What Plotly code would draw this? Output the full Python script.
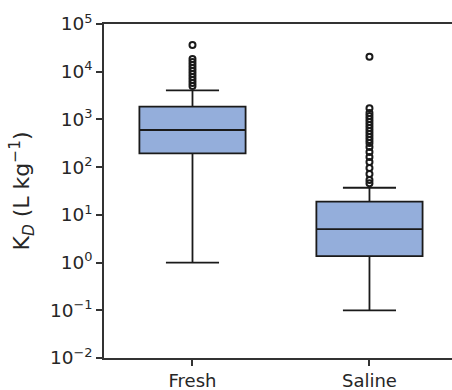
import plotly.graph_objects as go

categories = ["Fresh", "Saline"]
q1 = [195, 1.37]
median = [600, 5.0]
q3 = [1850, 18.9]
lower_whisker = [1.0, 0.1]
upper_whisker = [4080, 37]

fresh_outliers = [36300, 18500, 16000, 13800, 12000, 10400, 8950, 7740, 6700, 5800, 5000]
saline_outliers = [20700, 1710, 1360, 1180, 1020, 883, 764, 661, 572, 494, 428, 370,
                   320, 264, 208, 163, 128, 96, 72, 54, 46]

tick_vals = [1e-2, 1e-1, 1e0, 1e1, 1e2, 1e3, 1e4, 1e5]
tick_text = ["10<sup>−2</sup>", "10<sup>−1</sup>", "10<sup>0</sup>", "10<sup>1</sup>",
             "10<sup>2</sup>", "10<sup>3</sup>", "10<sup>4</sup>", "10<sup>5</sup>"]

FONT = "DejaVu Sans"
TXT = "#262626"
fig = go.Figure()
for i, c in enumerate(categories):
    fig.add_trace(go.Box(
        x=[c], q1=[q1[i]], median=[median[i]], q3=[q3[i]],
        lowerfence=[lower_whisker[i]], upperfence=[upper_whisker[i]],
        width=0.6, whiskerwidth=0.5,
        fillcolor="#94aedb", line=dict(color="#1a1a1a", width=1.8),
        boxpoints=False, showlegend=False, hoverinfo="skip",
    ))

for c, vals in zip(categories, [fresh_outliers, saline_outliers]):
    fig.add_trace(go.Scatter(
        x=[c] * len(vals), y=vals, mode="markers",
        marker=dict(symbol="circle-open", size=6, color="#1a1a1a", line=dict(width=2)),
        showlegend=False, hoverinfo="skip",
    ))

fig.update_layout(
    width=470, height=390,
    margin=dict(l=104, r=0, t=24, b=32),
    paper_bgcolor="white", plot_bgcolor="white",
    font=dict(family=FONT, size=18, color=TXT),
    xaxis=dict(
        type="category", categoryorder="array", categoryarray=categories,
        range=[-0.5, 1.568], showline=True, linecolor="#333", linewidth=1.5,
        mirror=True, ticks="outside", ticklen=6, tickwidth=1.5, tickcolor="#333",
        showgrid=False, zeroline=False, automargin=False,
        tickfont=dict(family=FONT, size=18, color=TXT),
    ),
    yaxis=dict(
        type="log", range=[-2, 5], tickvals=tick_vals, ticktext=tick_text,
        showline=True, linecolor="#333", linewidth=1.5,
        ticks="outside", ticklen=6, tickwidth=1.5, tickcolor="#333",
        showgrid=False, zeroline=False, automargin=False,
        tickfont=dict(family=FONT, size=18.5, color=TXT),
        title=dict(text="K<sub><i>D</i></sub> (L kg<sup>−1</sup>)", standoff=14,
                   font=dict(family=FONT, size=22, color=TXT)),
    ),
)

fig.write_html(
    "out.html",
    config={"displayModeBar": False},
    post_script="document.body.style.margin='0';document.body.style.overflow='hidden';",
)
